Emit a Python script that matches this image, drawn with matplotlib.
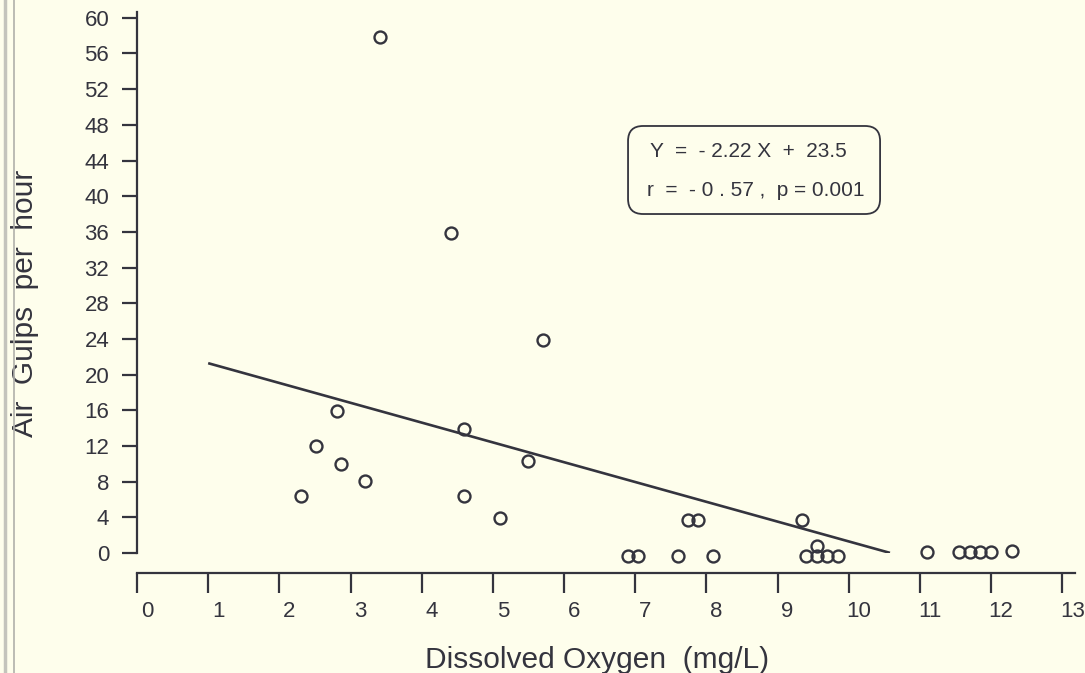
import numpy as np
import matplotlib
matplotlib.use("Agg")
import matplotlib.pyplot as plt
import matplotlib.transforms as mtransforms
from matplotlib.patches import FancyBboxPatch
from matplotlib.lines import Line2D

plt.rcParams['font.family'] = ['Liberation Sans', 'DejaVu Sans']

oxygen = [2.30, 2.51, 2.81, 2.87, 3.20, 3.41, 4.41, 4.59, 4.59, 5.10, 5.49, 5.70,
          6.90, 7.04, 7.60, 7.74, 7.88, 8.09,
          9.34, 9.40, 9.55, 9.55, 9.70, 9.85,
          11.10, 11.55, 11.70, 11.85, 12.00, 12.29]
gulps = [6.4, 12.0, 15.9, 10.0, 8.1, 57.8, 35.9, 13.9, 6.4, 3.9, 10.3, 23.9,
         -0.3, -0.3, -0.3, 3.7, 3.7, -0.3,
         3.7, -0.3, 0.8, -0.3, -0.3, -0.3,
         0.1, 0.1, 0.1, 0.1, 0.1, 0.2]

# Regression line
slope = -2.22
intercept = 23.5
fit_x = np.array([1.0, 10.58])

x_ticks = list(range(0, 14))
y_ticks = list(range(0, 61, 4))

bg = '#fefeec'
ink = '#34343e'

fig = plt.figure(figsize=(10.85, 6.73), dpi=100, facecolor=bg)
ax = fig.add_axes([137 / 1085, 120 / 673, 938 / 1085, 541 / 673])
ax.set_facecolor(bg)

ax.plot(fit_x, slope * fit_x + intercept, color=ink, lw=1.9, solid_capstyle='butt')
ax.plot(oxygen, gulps, 'o', mfc='none', mec=ink, mew=1.7, ms=8.6, clip_on=False)

ax.set_xlim(0, 13.18)
ax.set_ylim(0, 60.65)

for s in ['top', 'right']:
    ax.spines[s].set_visible(False)
for s in ['left', 'bottom']:
    ax.spines[s].set_color(ink)
    ax.spines[s].set_linewidth(1.6)
ax.spines['bottom'].set_position(('outward', 14.4))

ax.set_xticks(x_ticks)
ax.set_yticks(y_ticks)
ax.tick_params(axis='y', direction='out', length=11, width=1.6, color=ink,
               labelsize=16, labelcolor=ink, pad=9)
ax.tick_params(axis='x', direction='out', length=14.4, width=1.6, color=ink,
               labelsize=16, labelcolor=ink, pad=6)

# x tick labels sit a little to the right of their ticks
offset = mtransforms.ScaledTranslation(10 / 100, 0, fig.dpi_scale_trans)
for lab in ax.get_xticklabels():
    lab.set_transform(lab.get_transform() + offset)

ax.set_xlabel('Dissolved Oxygen  (mg/L)', fontsize=21.5, color=ink, va='center')
ax.xaxis.set_label_coords(0.490, -0.198)
ax.set_ylabel('Air  Gulps  per  hour', fontsize=21.5, color=ink, va='center')
ax.yaxis.set_label_coords(-0.119, 0.462)

# Equation box
box = FancyBboxPatch((0.5235, 0.6266), 0.2687, 0.1627,
                     boxstyle='round,pad=0,rounding_size=0.016',
                     mutation_aspect=938 / 541, transform=ax.transAxes,
                     fc='none', ec=ink, lw=1.3)
ax.add_patch(box)
ax.text(0.547, 0.743, 'Y  =  - 2.22 X  +  23.5', transform=ax.transAxes,
        fontsize=15, color=ink, va='center', ha='left')
ax.text(0.544, 0.670, 'r  =  - 0 . 57 ,  p = 0.001', transform=ax.transAxes,
        fontsize=15, color=ink, va='center', ha='left')

# scanned page edge on the left
fig.add_artist(Line2D([5 / 1085, 5 / 1085], [0, 1], color='#c4c4bc', lw=2.5))
fig.add_artist(Line2D([14 / 1085, 14 / 1085], [0, 1], color='#b0b0aa', lw=1.2))

fig.savefig('out.png', dpi=100, facecolor=bg)
